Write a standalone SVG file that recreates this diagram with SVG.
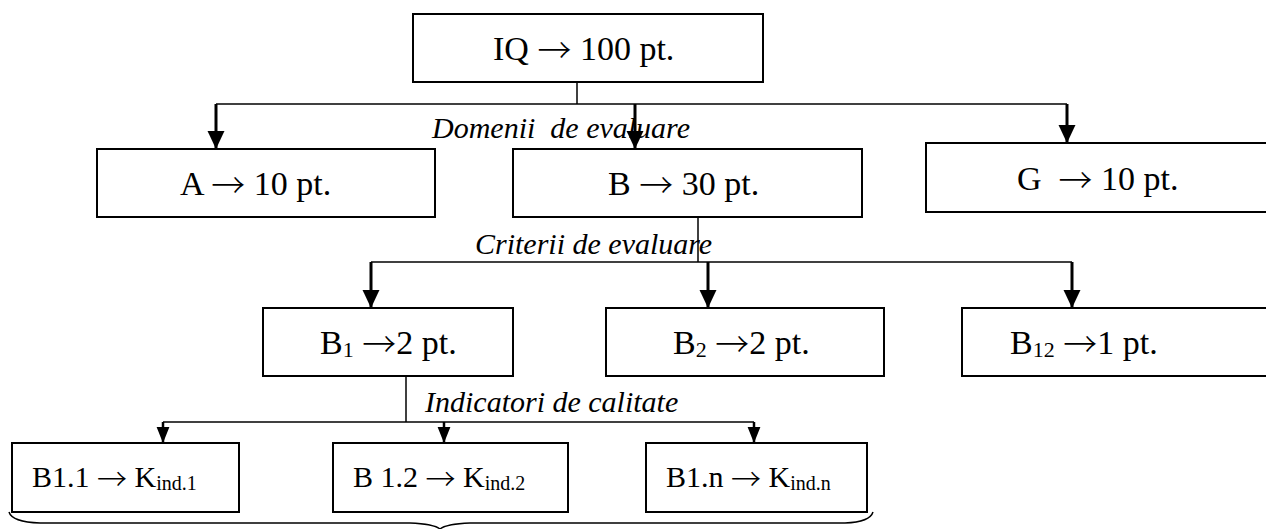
<svg xmlns="http://www.w3.org/2000/svg" width="1266" height="529" viewBox="0 0 1266 529">
<style>
.box{fill:#fff;stroke:#000;stroke-width:2}
.t{font-family:"Liberation Serif","Times New Roman","DejaVu Serif",serif;font-size:34px;fill:#000}
.ts{font-family:"Liberation Serif","Times New Roman","DejaVu Serif",serif;font-size:30px;fill:#000}
.lbl{font-family:"Liberation Serif","Times New Roman","DejaVu Serif",serif;font-size:30px;font-style:italic;fill:#000}
.arw{font-family:"Noto Sans CJK SC","Liberation Serif",sans-serif;font-weight:300}
.sub{font-size:22px}
.ssub{font-size:20px}
.ln{stroke:#000;stroke-width:1.5;fill:none}
.ar{stroke:#000;stroke-width:3;fill:none}
.ar2{stroke:#000;stroke-width:2.5;fill:none}
</style>
<defs>
<marker id="hb" markerUnits="userSpaceOnUse" markerWidth="18" markerHeight="18" refX="17" refY="8" orient="auto" viewBox="0 0 17 16">
<path d="M0,0 L17,8 L0,16 Z" fill="#000"/>
</marker>
<marker id="hs" markerUnits="userSpaceOnUse" markerWidth="16" markerHeight="14" refX="15" refY="6" orient="auto" viewBox="0 0 15 12">
<path d="M0,0 L15,6 L0,12 Z" fill="#000"/>
</marker>
</defs>
<g id="connectors">
<line class="ln" x1="577" y1="82" x2="577" y2="104"/>
<line class="ln" x1="216" y1="104" x2="1067" y2="104"/>
<line class="ar" x1="216" y1="104" x2="216" y2="149" marker-end="url(#hb)"/>
<line class="ar" x1="635" y1="104" x2="635" y2="149" marker-end="url(#hb)"/>
<line class="ar" x1="1067" y1="104" x2="1067" y2="143" marker-end="url(#hb)"/>
<line class="ln" x1="698" y1="217" x2="698" y2="262"/>
<line class="ln" x1="371" y1="262" x2="1072" y2="262"/>
<line class="ar" x1="371" y1="262" x2="371" y2="308" marker-end="url(#hb)"/>
<line class="ar" x1="708" y1="262" x2="708" y2="308" marker-end="url(#hb)"/>
<line class="ar" x1="1072" y1="262" x2="1072" y2="308" marker-end="url(#hb)"/>
<line class="ln" x1="406" y1="376" x2="406" y2="422"/>
<line class="ln" x1="163" y1="422" x2="754" y2="422"/>
<line class="ar2" x1="163" y1="422" x2="163" y2="443" marker-end="url(#hs)"/>
<line class="ar2" x1="444" y1="422" x2="444" y2="443" marker-end="url(#hs)"/>
<line class="ar2" x1="754" y1="422" x2="754" y2="443" marker-end="url(#hs)"/>
</g>
<text class="lbl" x="432" y="138" xml:space="preserve">Domenii  de evaluare</text>
<text class="lbl" x="475" y="254">Criterii de evaluare</text>
<text class="lbl" x="425" y="412">Indicatori de calitate</text>
<g id="iq">
<rect class="box" x="413" y="14" width="350" height="68"/>
<text class="t" x="493" y="60">IQ <tspan class="arw" dy="3">→</tspan><tspan dy="-3"> 100 pt.</tspan></text>
</g>
<g id="a">
<rect class="box" x="97" y="149" width="338" height="68"/>
<text class="t" x="180" y="195">A <tspan class="arw" dy="3">→</tspan><tspan dy="-3"> 10 pt.</tspan></text>
</g>
<g id="b">
<rect class="box" x="513" y="149" width="349" height="68"/>
<text class="t" x="608" y="195">B <tspan class="arw" dy="3">→</tspan><tspan dy="-3"> 30 pt.</tspan></text>
</g>
<g id="g">
<rect class="box" x="926" y="143" width="350" height="69"/>
<text class="t" x="1017" y="190" xml:space="preserve">G  <tspan class="arw" dy="3">→</tspan><tspan dy="-3"> 10 pt.</tspan></text>
</g>
<g id="b1">
<rect class="box" x="263" y="308" width="250" height="68"/>
<text class="t" x="320" y="354">B<tspan class="sub" dy="3">1</tspan> <tspan class="arw">→</tspan><tspan dy="-3">2 pt.</tspan></text>
</g>
<g id="b2">
<rect class="box" x="606" y="308" width="278" height="68"/>
<text class="t" x="673" y="354">B<tspan class="sub" dy="3">2</tspan> <tspan class="arw">→</tspan><tspan dy="-3">2 pt.</tspan></text>
</g>
<g id="b12">
<rect class="box" x="962" y="308" width="310" height="68"/>
<text class="t" x="1010" y="354">B<tspan class="sub" dy="3">12</tspan> <tspan class="arw">→</tspan><tspan dy="-3">1 pt.</tspan></text>
</g>
<g id="b11">
<rect class="box" x="12" y="443" width="227" height="69"/>
<text class="ts" x="32" y="487">B1.1 <tspan class="arw" dy="3">→</tspan><tspan dy="-3"> K</tspan><tspan class="ssub" dy="3">ind.1</tspan></text>
</g>
<g id="b12i">
<rect class="box" x="333" y="443" width="235" height="69"/>
<text class="ts" x="353" y="487">B 1.2 <tspan class="arw" dy="3">→</tspan><tspan dy="-3"> K</tspan><tspan class="ssub" dy="3">ind.2</tspan></text>
</g>
<g id="b1n">
<rect class="box" x="646" y="443" width="221" height="69"/>
<text class="ts" x="666" y="487">B1.n <tspan class="arw" dy="3">→</tspan><tspan dy="-3"> K</tspan><tspan class="ssub" dy="3">ind.n</tspan></text>
</g>
<path class="ln" d="M9,512 Q12,522 40,523 L410,523 Q434,524 440,529 Q446,524 470,523 L845,523 Q870,522 873,512"/>
</svg>
